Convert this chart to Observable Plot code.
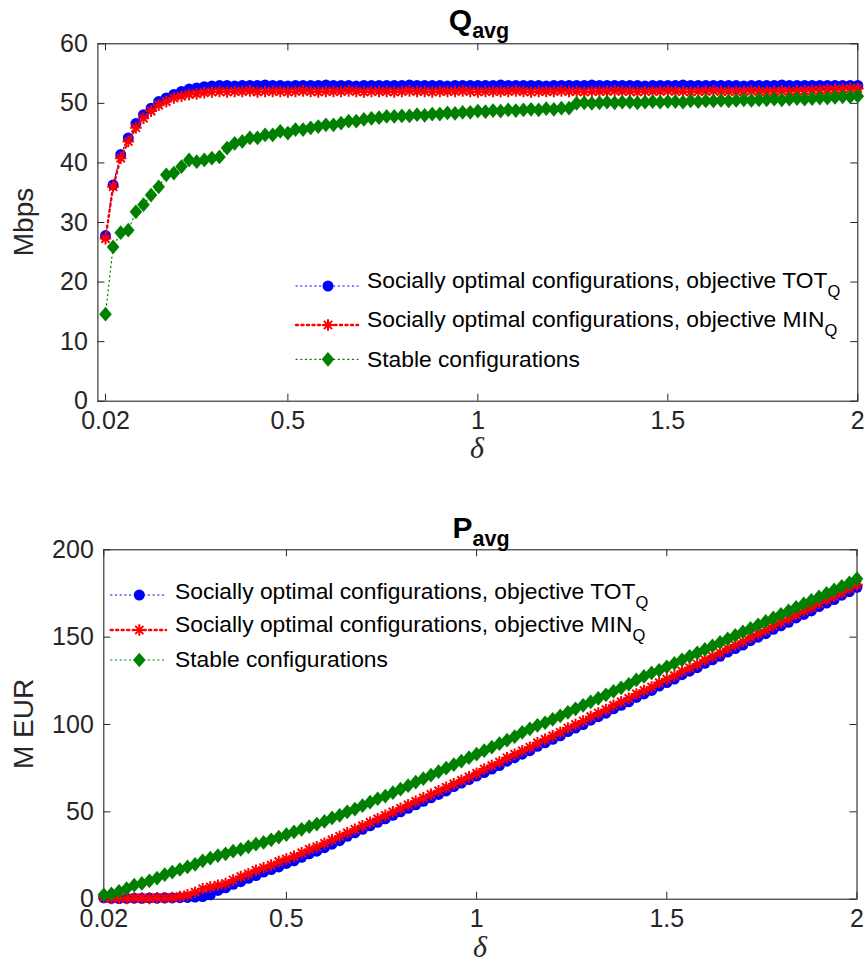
<!DOCTYPE html>
<html>
<head>
<meta charset="utf-8">
<script src="https://cdn.jsdelivr.net/npm/d3@7"></script>
<script src="https://cdn.jsdelivr.net/npm/@observablehq/plot@0.6"></script>
<style>
html,body{margin:0;padding:0;background:#fff;}
#wrap{position:relative;width:865px;height:972px;overflow:hidden;background:#fff;font-family:"Liberation Sans",Arial,Helvetica,sans-serif;}
#wrap > .panel{position:absolute;left:0;}
#overlay{position:absolute;left:0;top:0;pointer-events:none;}
</style>
</head>
<body>
<div id="wrap">
  <div class="panel" id="p1" style="top:0px"></div>
  <div class="panel" id="p2" style="top:486px"></div>
  <svg id="overlay" width="865" height="972" xmlns="http://www.w3.org/2000/svg"></svg>
</div>
<script>
// ---------------- data ----------------
const delta = [0.02,0.04,0.06,0.08,0.10,0.12,0.14,0.16,0.18,0.20,0.22,0.24,0.26,0.28,0.30,0.32,0.34,0.36,0.38,0.40,0.42,0.44,0.46,0.48,0.50,0.52,0.54,0.56,0.58,0.60,0.62,0.64,0.66,0.68,0.70,0.72,0.74,0.76,0.78,0.80,0.82,0.84,0.86,0.88,0.90,0.92,0.94,0.96,0.98,1.00,1.02,1.04,1.06,1.08,1.10,1.12,1.14,1.16,1.18,1.20,1.22,1.24,1.26,1.28,1.30,1.32,1.34,1.36,1.38,1.40,1.42,1.44,1.46,1.48,1.50,1.52,1.54,1.56,1.58,1.60,1.62,1.64,1.66,1.68,1.70,1.72,1.74,1.76,1.78,1.80,1.82,1.84,1.86,1.88,1.90,1.92,1.94,1.96,1.98,2.00];

// Q_avg (Mbps)
const qTot = [27.8,36.3,41.4,44.2,46.6,48.1,49.2,50.3,50.9,51.5,52.0,52.4,52.6,52.8,52.9,
  53.0,53.0,52.9,53.0,53.0,53.0,53.1,53.0,53.0,52.9,
  53.0,53.0,53.0,53.0,53.1,53.0,53.0,53.0,52.9,53.0,
  53.0,53.0,53.0,53.0,53.0,53.1,53.0,53.0,53.0,53.0,
  52.9,53.0,53.0,53.0,53.0,53.0,53.0,53.1,53.0,53.0,
  53.0,53.0,53.0,52.9,53.0,53.0,53.0,53.0,53.0,53.1,
  53.0,53.0,53.0,53.0,53.0,53.0,52.9,53.0,53.0,53.0,
  53.0,53.1,53.0,53.0,53.0,53.0,53.0,53.0,53.0,52.9,
  53.0,53.0,53.0,53.0,53.1,53.0,53.0,53.0,53.0,53.0,
  53.0,53.0,53.0,53.0,53.0];
const qMin = [27.3,36.0,40.8,43.6,45.9,47.5,48.7,49.7,50.3,50.9,51.2,51.5,51.6,51.8,51.9,
  52.0,51.9,52.0,52.0,52.1,51.9,52.0,52.0,52.0,51.9,
  52.0,52.1,52.0,51.9,52.0,52.0,52.0,52.1,52.0,51.9,
  52.0,52.0,52.0,51.9,52.0,52.1,52.0,52.0,51.9,52.0,
  52.0,52.0,52.1,52.0,51.9,52.0,52.0,52.0,52.0,52.1,
  52.0,51.9,52.0,52.0,52.0,52.1,52.0,52.0,51.9,52.0,
  52.0,52.0,52.1,52.0,52.0,51.9,52.0,52.0,52.0,52.1,
  52.0,52.0,51.9,52.0,52.0,52.1,52.0,52.0,52.0,52.0,
  52.1,52.0,52.0,52.0,52.1,52.0,52.1,52.1,52.2,52.2,
  52.3,52.3,52.4,52.5,52.5];
const qStable = [14.6,25.9,28.3,28.7,31.8,33.0,34.6,36.0,38.0,38.3,
  39.4,40.5,40.2,40.5,40.8,41.0,42.5,43.3,43.6,44.2,
  44.2,44.7,44.7,45.3,45.0,45.6,45.6,45.9,46.1,46.4,
  46.4,46.7,47.0,47.0,47.3,47.5,47.6,47.8,
  47.8,47.9,47.9,48.1,48.0,48.2,48.2,48.4,48.3,48.5,48.5,48.7,
  48.6,48.8,48.7,48.9,48.8,48.9,49.0,48.9,49.1,49.0,49.2,49.2,
  50.0,50.1,50.0,50.1,50.2,50.1,50.2,50.2,50.1,50.2,
  50.3,50.2,50.3,50.3,50.2,50.4,50.3,50.4,50.4,50.5,
  50.4,50.5,50.6,50.5,50.6,50.6,50.7,50.6,50.7,50.8,
  50.7,50.8,50.9,50.9,51.0,51.1,51.1,51.2];

// P_avg (M EUR)
const pTot = [0.8,0.5,0.4,0.5,0.6,0.5,0.7,0.6,0.8,0.7,0.9,1.0,1.2,1.5,2.5,
  5,6.5,8.5,10,12,13.5,15.5,17,18.5,20.5,
  22,24,26,27.5,29.5,31.5,33.5,36,38,40,
  42,44,46,48,50,52,54,56,58,60,
  62,64.5,66.5,68.5,70.5,
  72.5,74.5,76.5,79,81,83,85,87.5,89.5,91.5,
  93.5,96,98,100,102.5,104.5,106.5,109,111,113,
  115.5,117.5,119.5,122,124,126,128.5,130.5,132.5,135,
  137,139,141.5,143.5,145.5,148,150,152,154.5,156.5,
  158.5,161,163,165,167.5,169.5,171.5,174,176,178.5];
const pMin = [1.0,0.5,0.6,0.4,0.7,0.6,0.5,0.8,0.7,1.0,1.5,2.5,4,6,7,
  8,9,11,13,14.5,16.5,18,19.5,21.5,23,
  24.5,26.5,28.5,30,32,34,36,38,40,42,
  44,46,48,50,52,54,56,58,60,62,
  64,66,68,70,72,
  74.5,76.5,78.5,81,83,85,87,89.5,91.5,93.5,
  95.5,98,100,102,104.5,106.5,108.5,111,113,115,
  117.5,119.5,121.5,124,126,128,130.5,132.5,134.5,137,
  139,141,143.5,145.5,147.5,150,152,154,156.5,158.5,
  160.5,163,165,167,169.5,171.5,173.5,175.5,178,180];
const pStable = [2.5,3,4.5,6,8,9,10.5,12,14,15.5,
  17,18.5,20,22,23.5,25,26,27.5,28.5,30,
  31.5,32.5,34,35.5,37,38.5,40,41.5,43,44.5,
  46.5,48,50,51.5,53.5,55.5,57.5,59,61,63,
  65,67,69,71,73,75,77,79,81,83,
  85,87,89,91,93,95.5,97.5,99.5,101,103,
  105,107,109,111,113,115,117,119,121,123,
  125.5,127.5,129.5,131,133,135,137,139,141,143,
  145,147,149,151,153,155,157,159,161,163,
  165,167,169,171,173,175,177,179,181,183.5];

const qTicksY = [0,10,20,30,40,50,60];
const pTicksY = [0,50,100,150,200];
const xTicks = [0.02,0.5,1,1.5,2];

const seriesNames = ["Socially optimal configurations, objective TOT",
                     "Socially optimal configurations, objective MIN",
                     "Stable configurations"];
const seriesSubs = ["Q","Q",""];
const panelTitles = ["Q","P"];
const titleSub = "avg";
const yLabels = ["Mbps","M EUR"];
const xLabel = "\u03b4";

// ---------------- styling ----------------
const AXIS = "#262626";
const TICK = 7;
const asterisk8 = {draw(ctx, size){
  const r = Math.sqrt(size/Math.PI), d = r*Math.SQRT1_2;
  ctx.moveTo(-r,0); ctx.lineTo(r,0);
  ctx.moveTo(0,-r); ctx.lineTo(0,r);
  ctx.moveTo(-d,-d); ctx.lineTo(d,d);
  ctx.moveTo(-d,d); ctx.lineTo(d,-d);
}};
const diamondM = {draw(ctx, size){
  const r = Math.sqrt(size/Math.PI);
  ctx.moveTo(0,-r*1.17); ctx.lineTo(r,0); ctx.lineTo(0,r*1.17); ctx.lineTo(-r,0); ctx.closePath();
}};
const circleM = {draw(ctx, size){
  const r = Math.sqrt(size/Math.PI);
  ctx.moveTo(r,0); ctx.arc(0,0,r,0,2*Math.PI);
}};
const styles = [
  {key:"tot", color:"#0000ff", lw:1.2, dash:"1.2 3.5", symbol:circleM, r:5.5, fill:"#0000ff", stroke:"none", sw:0},
  {key:"min", color:"#ff0000", lw:2.4, dash:"2 3.5", symbol:asterisk8, r:5.8, fill:"none", stroke:"#ff0000", sw:2},
  {key:"stable", color:"#008000", lw:1.2, dash:"1.2 3.5", symbol:diamondM, r:6.3, fill:"#008000", stroke:"none", sw:0}
];

const qData = delta.map((d,i)=>({delta:d, tot:qTot[i], min:qMin[i], stable:qStable[i]}));
const pData = delta.map((d,i)=>({delta:d, tot:pTot[i], min:pMin[i], stable:pStable[i]}));

function makePanel({data, xDomain, yDomain, yTicks, H, ml, mr, mt, mb}) {
  const FH = H - mt - mb, FW = 865 - ml - mr;
  const marks = [
    Plot.frame({stroke: AXIS, strokeWidth: 1.1}),
    Plot.tickX(xTicks, {x: d=>d, insetTop: FH - TICK, stroke: AXIS}),
    Plot.tickX(xTicks, {x: d=>d, insetBottom: FH - TICK, stroke: AXIS}),
    Plot.tickY(yTicks, {y: d=>d, insetRight: FW - TICK, stroke: AXIS}),
    Plot.tickY(yTicks, {y: d=>d, insetLeft: FW - TICK, stroke: AXIS}),
    Plot.axisX(xTicks, {tickSize: 0, tickPadding: 10, tickFormat: d=>String(d), label: null, fontSize: 25, fill: AXIS}),
    Plot.axisY(yTicks, {tickSize: 0, tickPadding: 10, tickFormat: d=>String(d), label: null, fontSize: 25, fill: AXIS})
  ];
  for (const s of styles) {
    marks.push(Plot.line(data, {x:"delta", y:s.key, stroke:s.color, strokeWidth:s.lw, strokeDasharray:s.dash, strokeLinecap:"round"}));
    marks.push(Plot.dot(data, {x:"delta", y:s.key, symbol:s.symbol, r:s.r, fill:s.fill, stroke:s.stroke, strokeWidth:s.sw}));
  }
  return Plot.plot({
    width: 865, height: H,
    marginLeft: ml, marginRight: mr, marginTop: mt, marginBottom: mb,
    x: {domain: xDomain},
    y: {domain: yDomain},
    style: {fontFamily: '"Liberation Sans", Arial, Helvetica, sans-serif', fontSize: "25px", background: "transparent", overflow: "visible", color: AXIS},
    marks
  });
}

document.getElementById("p1").appendChild(makePanel({
  data: qData, xDomain: [0, 2], yDomain: [0, 60], yTicks: qTicksY,
  H: 486, ml: 97.4, mr: 7.7, mt: 43.3, mb: 85.3
}));
document.getElementById("p2").appendChild(makePanel({
  data: pData, xDomain: [0.02, 2], yDomain: [0, 200], yTicks: pTicksY,
  H: 486, ml: 103.3, mr: 8.5, mt: 63.3, mb: 73.3
}));

// ---------------- overlay text: titles, axis labels, legends ----------------
const ov = d3.select("#overlay");
const FONT = '"Liberation Sans", Arial, Helvetica, sans-serif';

function title(x, y, main) {
  const t = ov.append("text").attr("x", x).attr("y", y).attr("text-anchor", "middle")
    .attr("font-family", FONT).attr("font-weight", "bold").attr("font-size", 30).attr("fill", "#000");
  t.append("tspan").text(main);
  t.append("tspan").attr("font-size", 21.5).attr("dy", 8).text(titleSub);
}
title(479, 30, panelTitles[0]);
title(481, 538, panelTitles[1]);

function ylabel(x, y, s) {
  ov.append("text").attr("transform", `translate(${x},${y}) rotate(-90)`).attr("text-anchor", "middle")
    .attr("font-family", FONT).attr("font-size", 28).attr("fill", AXIS).text(s);
}
ylabel(33, 222, yLabels[0]);
ylabel(33, 724, yLabels[1]);

function xlabel(x, y) {
  ov.append("text").attr("x", x).attr("y", y).attr("text-anchor", "middle")
    .attr("font-family", '"Liberation Serif", "DejaVu Serif", serif').attr("font-style", "italic")
    .attr("font-size", 30).attr("fill", AXIS).text(xLabel);
}
xlabel(477, 458);
xlabel(480, 957);

function legend({x1, x2, mx, tx, rows}) {
  styles.forEach((s, i) => {
    const g = ov.append("g");
    const r = rows[i];
    g.append("line").attr("x1", x1).attr("x2", x2).attr("y1", r.my).attr("y2", r.my)
      .attr("stroke", s.color).attr("stroke-width", s.lw).attr("stroke-dasharray", s.dash).attr("stroke-linecap", "round");
    const size = s.r * s.r * Math.PI;
    g.append("path").attr("transform", `translate(${mx},${r.my})`)
      .attr("d", d3.symbol(s.symbol, size)())
      .attr("fill", s.fill).attr("stroke", s.stroke).attr("stroke-width", s.sw);
    const t = g.append("text").attr("x", tx).attr("y", r.by).attr("font-family", FONT)
      .attr("font-size", 22.8).attr("fill", "#000");
    t.append("tspan").text(seriesNames[i]);
    if (seriesSubs[i]) t.append("tspan").attr("font-size", 16.5).attr("dy", 8.5).text(seriesSubs[i]);
  });
}
legend({x1: 296, x2: 358, mx: 328, tx: 367,
  rows: [{my: 286, by: 288.3}, {my: 325, by: 327}, {my: 359.3, by: 366.7}]});
legend({x1: 110.7, x2: 166, mx: 139.3, tx: 175,
  rows: [{my: 595, by: 599}, {my: 630, by: 632.3}, {my: 660, by: 666.7}]});
</script>
</body>
</html>
